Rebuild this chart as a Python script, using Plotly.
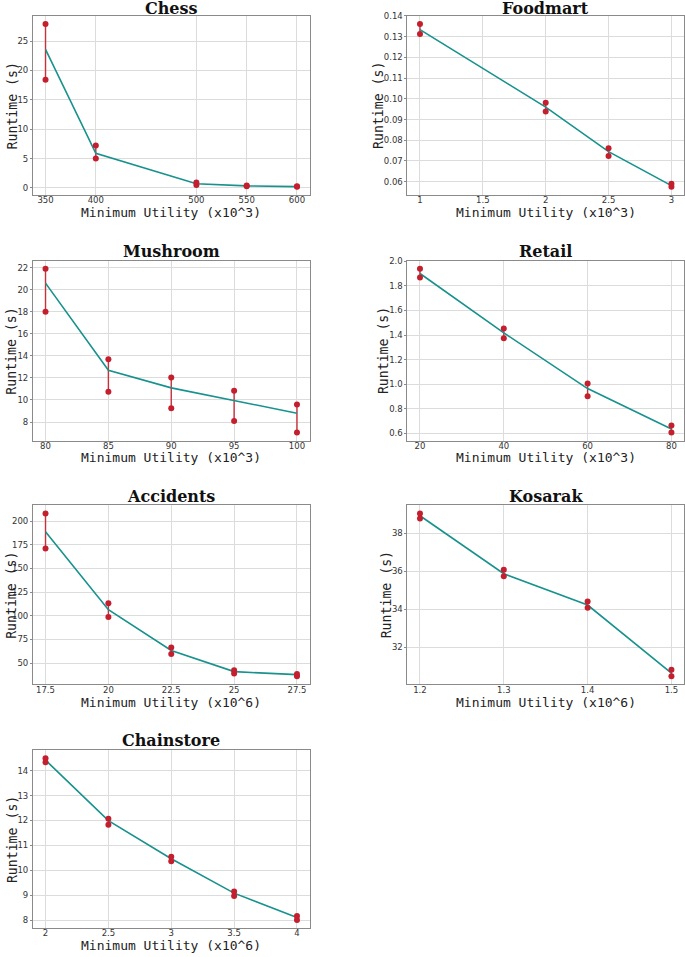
import plotly.graph_objects as go

W, H = 685, 957

# ---------------- data ----------------
chess_x = [350, 400, 500, 550, 600]
chess_mean = [23.6, 5.9, 0.7, 0.35, 0.22]
chess_min = [18.4, 5.0, 0.5, 0.3, 0.18]
chess_max = [27.9, 7.2, 0.9, 0.4, 0.27]
chess_xticks = [350, 400, 500, 550, 600]
chess_yticks = [0, 5, 10, 15, 20, 25]

food_x = [1, 2, 2.5, 3]
food_mean = [0.1334, 0.0960, 0.0745, 0.0581]
food_min = [0.1313, 0.0939, 0.0724, 0.0575]
food_max = [0.1361, 0.0981, 0.0761, 0.0590]
food_xticks = [1, 1.5, 2, 2.5, 3]
food_yticks = [0.06, 0.07, 0.08, 0.09, 0.10, 0.11, 0.12, 0.13, 0.14]
food_yticktext = ["0.06", "0.07", "0.08", "0.09", "0.10", "0.11", "0.12", "0.13", "0.14"]

mush_x = [80, 85, 90, 95, 100]
mush_mean = [20.6, 12.7, 11.1, 9.93, 8.8]
mush_min = [18.0, 10.74, 9.25, 8.09, 7.05]
mush_max = [21.9, 13.7, 12.05, 10.83, 9.6]
mush_xticks = [80, 85, 90, 95, 100]
mush_yticks = [8, 10, 12, 14, 16, 18, 20, 22]

retail_x = [20, 40, 60, 80]
retail_mean = [1.90, 1.418, 0.965, 0.636]
retail_min = [1.867, 1.374, 0.903, 0.608]
retail_max = [1.938, 1.453, 1.006, 0.665]
retail_xticks = [20, 40, 60, 80]
retail_yticks = [0.6, 0.8, 1.0, 1.2, 1.4, 1.6, 1.8, 2.0]
retail_yticktext = ["0.6", "0.8", "1.0", "1.2", "1.4", "1.6", "1.8", "2.0"]

acc_x = [17.5, 20, 22.5, 25, 27.5]
acc_mean = [188.8, 106.4, 63.3, 40.9, 37.7]
acc_min = [170.9, 98.7, 59.5, 38.8, 36.0]
acc_max = [208.0, 113.1, 66.5, 42.3, 38.4]
acc_xticks = [17.5, 20, 22.5, 25, 27.5]
acc_yticks = [50, 75, 100, 125, 150, 175, 200]

kos_x = [1.2, 1.3, 1.4, 1.5]
kos_mean = [38.93, 35.87, 34.22, 30.62]
kos_min = [38.79, 35.74, 34.07, 30.46]
kos_max = [39.05, 36.08, 34.40, 30.81]
kos_xticks = [1.2, 1.3, 1.4, 1.5]
kos_yticks = [32, 34, 36, 38]

chain_x = [2, 2.5, 3, 3.5, 4]
chain_mean = [14.42, 11.99, 10.46, 9.08, 8.10]
chain_min = [14.34, 11.83, 10.36, 8.97, 8.00]
chain_max = [14.50, 12.07, 10.54, 9.15, 8.16]
chain_xticks = [2, 2.5, 3, 3.5, 4]
chain_yticks = [8, 9, 10, 11, 12, 13, 14]

titles = ["Chess", "Foodmart", "Mushroom", "Retail", "Accidents", "Kosarak", "Chainstore"]
x_titles = ["Minimum Utility (x10^3)", "Minimum Utility (x10^3)", "Minimum Utility (x10^3)",
            "Minimum Utility (x10^3)", "Minimum Utility (x10^6)", "Minimum Utility (x10^6)",
            "Minimum Utility (x10^6)"]
y_title = "Runtime (s)"

panels = [
    (chess_x, chess_mean, chess_min, chess_max, chess_xticks, None, chess_yticks, None),
    (food_x, food_mean, food_min, food_max, food_xticks, None, food_yticks, food_yticktext),
    (mush_x, mush_mean, mush_min, mush_max, mush_xticks, None, mush_yticks, None),
    (retail_x, retail_mean, retail_min, retail_max, retail_xticks, None, retail_yticks, retail_yticktext),
    (acc_x, acc_mean, acc_min, acc_max, acc_xticks, None, acc_yticks, None),
    (kos_x, kos_mean, kos_min, kos_max, kos_xticks, None, kos_yticks, None),
    (chain_x, chain_mean, chain_min, chain_max, chain_xticks, None, chain_yticks, None),
]

# ---------------- layout geometry (target page pixels) ----------------
cols_px = [(33, 310), (408, 685)]
rows_px = [(15, 195), (261, 442), (507, 687), (753, 932)]
title_y_px = [8, 252, 498, 743]
xtitle_y_px = [213, 459, 705, 949]
ytitle_x_px = [12, 12, 12, 12]
ytitle_x_px_right = [379, 384, 387]

TEAL = "#17928d"
RED = "#c41f2f"
ERR = "#c8303a"
FRAME = "#8a8a8a"
GRID = "#dcdcdc"


def fx(px):
    return px / W


def fy(py):
    return 1 - py / H


def fmt(v):
    return "%g" % v


fig = go.Figure()
layout = dict(
    width=W, height=H,
    margin=dict(l=0, r=0, t=0, b=0),
    paper_bgcolor="white", plot_bgcolor="white",
    showlegend=False,
    annotations=[],
)

for i, (x, mean, mn, mx, xt, xtt, yt, ytt) in enumerate(panels):
    r, c = divmod(i, 2)
    k = i + 1
    xa = "x" if k == 1 else f"x{k}"
    ya = "y" if k == 1 else f"y{k}"
    xkey = "xaxis" if k == 1 else f"xaxis{k}"
    ykey = "yaxis" if k == 1 else f"yaxis{k}"

    fig.add_trace(go.Scatter(
        x=x, y=mean, mode="lines",
        line=dict(color=TEAL, width=1.6),
        error_y=dict(type="data", symmetric=False,
                     array=[a - b for a, b in zip(mx, mean)],
                     arrayminus=[b - a for a, b in zip(mn, mean)],
                     color=ERR, thickness=1.4, width=0),
        xaxis=xa, yaxis=ya, hoverinfo="skip"))
    fig.add_trace(go.Scatter(
        x=list(x) + list(x), y=list(mn) + list(mx), mode="markers",
        marker=dict(color=RED, size=6),
        xaxis=xa, yaxis=ya, hoverinfo="skip"))

    xlo, xhi = min(x), max(x)
    ylo, yhi = min(mn), max(mx)
    xpad = (xhi - xlo) * 0.05
    ypad = (yhi - ylo) * 0.05

    x0, x1 = cols_px[c]
    y0, y1 = rows_px[r]
    common = dict(showline=True, mirror=True, linecolor=FRAME, linewidth=1,
                  showgrid=True, gridcolor=GRID, gridwidth=1, zeroline=False,
                  tickfont=dict(family="DejaVu Sans", size=8.5, color="#333333"))
    layout[xkey] = dict(common, domain=[fx(x0), fx(x1)], anchor=ya,
                        range=[xlo - xpad, xhi + xpad], ticks="",
                        tickmode="array", tickvals=xt, ticklabelstandoff=-3,
                        ticktext=xtt if xtt else [fmt(v) for v in xt])
    layout[ykey] = dict(common, domain=[fy(y1), fy(y0)], anchor=xa,
                        range=[ylo - ypad, yhi + ypad],
                        ticks="outside", ticklen=2, tickcolor=FRAME,
                        tickmode="array", tickvals=yt,
                        ticktext=ytt if ytt else [fmt(v) for v in yt])

    cx = (x0 + x1) / 2
    layout["annotations"].append(dict(
        text=f"<b>{titles[i]}</b>", xref="paper", yref="paper",
        x=fx(cx), y=fy(title_y_px[r]), xanchor="center", yanchor="middle",
        showarrow=False, font=dict(family="DejaVu Serif", size=16, color="#111111")))
    layout["annotations"].append(dict(
        text=x_titles[i], xref="paper", yref="paper",
        x=fx(cx), y=fy(xtitle_y_px[r]), xanchor="center", yanchor="middle",
        showarrow=False, font=dict(family="DejaVu Sans Mono", size=13, color="#222222")))
    ytx = ytitle_x_px[r] if c == 0 else ytitle_x_px_right[r]
    layout["annotations"].append(dict(
        text=y_title, xref="paper", yref="paper", textangle=-90,
        x=fx(ytx), y=fy((y0 + y1) / 2), xanchor="center", yanchor="middle",
        showarrow=False, font=dict(family="DejaVu Sans Mono", size=13.2, color="#222222")))

fig.update_layout(**layout)
fig.write_html(
    "out.html",
    config={"displayModeBar": False, "staticPlot": True},
    post_script=(
        "document.body.style.margin='0';"
        "document.body.style.overflow='hidden';"
        "var d=document.querySelector('.plotly-graph-div');"
        "d.style.position='fixed';d.style.left='0px';d.style.top='-4px';"
    ),
)
